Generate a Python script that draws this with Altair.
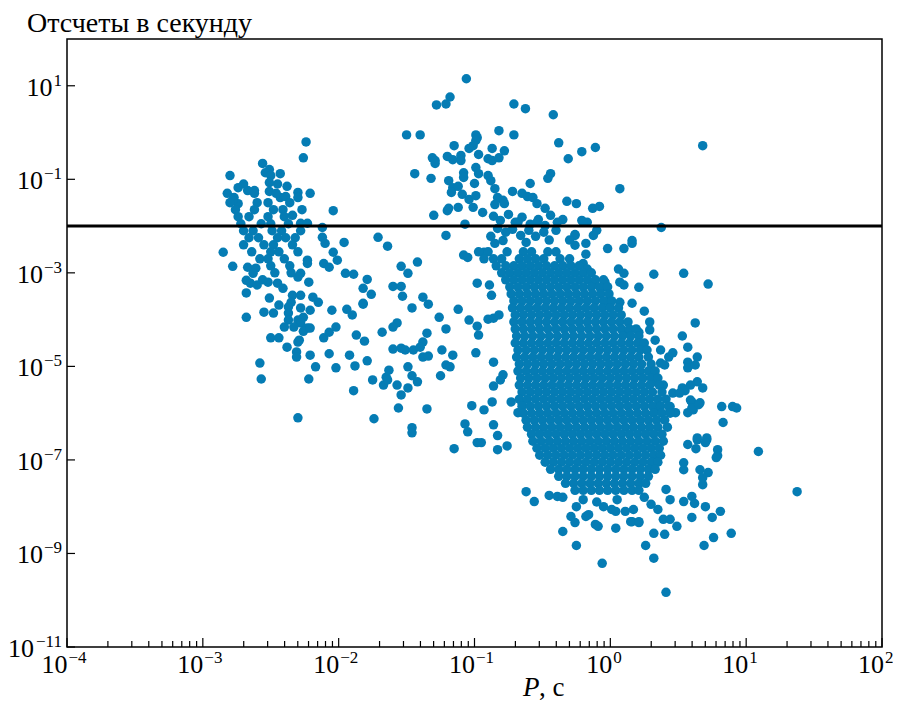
import altair as alt
import pandas as pd

# ---------------- texts ----------------
title_text = "Отсчеты в секунду"
xlabel_italic = "P"
xlabel_rest = ", с"

# ---------------- axis ticks ----------------
x_major = [1e-4, 1e-3, 1e-2, 1e-1, 1e0, 1e1, 1e2]
x_major_exp = [-4, -3, -2, -1, 0, 1, 2]
x_minor = [k * 10.0 ** e for e in range(-4, 2) for k in range(2, 10)]
y_major = [1e1, 1e-1, 1e-3, 1e-5, 1e-7, 1e-9, 1e-11]
y_major_exp = [1, -1, -3, -5, -7, -9, -11]
threshold = [1e-2]

# ---------------- data: (log10 P [s], log10 counts/s) ----------------
msp_pts = [(-2.24,-0.2),(-2.26,-0.54),(-2.56,-0.66),(-2.8,-0.92),(-2.51,-0.79),(-2.54,-0.86),(-2.5,-0.92),(-2.43,-0.88),
(-2.74,-1.18),(-2.67,-1.24),(-2.62,-1.24),(-2.77,-1.39),(-2.74,-1.52),(-2.78,-1.45),(-2.51,-1.07),(-2.51,-1.26),(-2.38,-1.15),
(-2.3,-1.28),(-2.3,-1.39),(-2.21,-1.3),(-2.43,-1.39),(-2.39,-1.37),(-2.04,-1.67),(-2.34,-1.77),(-2.28,-1.94),(-2.23,-1.94),
(-2.12,-2.03),(-2.12,-2.24),(-2.1,-2.37),(-1.96,-2.35),(-2.04,-2.56),(-2.01,-2.73),(-2.11,-2.8),(-2.07,-2.88),(-2.85,-2.56),
(-2.78,-2.86),(-2.67,-2.88),(-2.61,-2.9),(-2.63,-3.01),(-2.23,-2.73),(-2.23,-2.8),(-2.28,-3.01),(-2.3,-3.09),(-1.95,-3.01),
(-1.89,-3.03),(-1.79,-3.14),(-1.82,-3.33),(-1.76,-3.46),(-1.82,-3.65),(-2.68,-3.16),(-2.65,-3.22),(-2.6,-3.26),(-2.52,-3.2),
(-2.45,-3.22),(-2.41,-3.33),(-2.22,-3.2),(-2.68,-3.43),(-2.34,-3.48),(-2.28,-3.48),(-2.51,-3.54),(-2.19,-3.52),(-2.15,-3.63),
(-2.35,-3.63),(-2.37,-3.73),(-2.28,-3.75),(-2.21,-3.8),(-2.68,-3.95),(-2.55,-3.84),(-2.48,-3.86),(-2.44,-3.69),(-2.37,-3.86),
(-2.37,-4.01),(-2.3,-4.01),(-2.26,-3.95),(-2.28,-4.07),(-2.23,-4.18),(-2.05,-3.8),(-1.94,-3.78),(-1.9,-3.9),(-2.4,-4.16),
(-2.33,-4.16),(-2.26,-4.25),(-2.21,-4.18),(-2.5,-4.39),(-2.44,-4.39),(-2.29,-4.44),(-2.3,-4.48),(-2.38,-4.59),(-2.31,-4.69),
(-2.31,-4.8),(-2.21,-4.76),(-2.17,-5.01),(-2.22,-5.27),(-2.58,-4.93),(-2.57,-5.27),(-2.3,-6.1),(-2.07,-4.73),(-2.02,-5.03),
(-1.92,-4.76),(-1.88,-4.99),(-1.79,-4.88),(-2.11,-4.39),(-2.07,-4.27),(-2.02,-4.16),(-1.87,-4.33),(-1.81,-4.46),(-1.82,-3.67),
(-1.89,-5.52),(-1.75,-5.29),(-1.74,-6.12),(-1.68,-4.27)]

msp_core = {
    -1.1: [-2.7,-2.45],
    -1.3: [-2.82,-2.62,-2.46],
    -1.5: [-2.8,-2.6,-2.52,-2.36],
    -1.65: [-2.76,-2.62,-2.48,-2.41,-2.27],
    -1.8: [-2.74,-2.66,-2.52,-2.4],
    -1.95: [-2.72,-2.57,-2.5,-2.37],
    -2.1: [-2.7,-2.63,-2.49,-2.42,-2.28],
    -2.25: [-2.66,-2.59,-2.45,-2.39,-2.32],
    -2.4: [-2.7,-2.55,-2.48,-2.34],
    -2.55: [-2.64,-2.5,-2.44,-2.3],
    -2.7: [-2.58,-2.52,-2.4],
    -2.85: [-2.5,-2.36],
    -3.0: [-2.47,-2.35],
    -3.15: [-2.56],
}

mid_pts = [(-1.71,-2.24),(-1.64,-2.43),(-1.54,-2.86),(-1.49,-3.01),(-1.42,-2.77),(-1.6,-3.29),(-1.54,-3.29),(-1.53,-3.5),
(-1.46,-3.75),(-1.57,-4.07),(-1.6,-4.16),(-1.38,-3.52),(-1.34,-3.67),(-1.26,-3.95),(-1.21,-4.2),(-1.35,-4.29),(-1.38,-4.48),
(-1.6,-4.63),(-1.54,-4.61),(-1.51,-4.65),(-1.45,-4.65),(-1.4,-4.59),(-1.38,-4.8),(-1.34,-4.78),(-1.24,-4.65),(-1.21,-4.97),
(-1.25,-5.2),(-1.49,-5.01),(-1.46,-5.2),(-1.42,-5.33),(-1.49,-5.46),(-1.65,-5.23),(-1.67,-5.4),(-1.63,-5.08),(-1.57,-5.4),
(-1.64,-5.29),(-1.54,-5.61),(-1.56,-5.89),(-1.35,-5.91),(-1.46,-6.31),(-1.46,-6.42),(-1.3,-1.77),(-1.21,-2.2),(-1.2,-1.67),
(-1.12,-3.78),(-1.04,-4.01),(-0.98,-4.14),(-0.97,-4.33),(-0.99,-4.71),(-1.16,-4.76),(-1.18,-5.01),(-0.98,-3.22),(-0.89,-3.26),
(-0.875,-3.48),(-0.9,-3.99),(-0.86,-3.97),(-0.82,-3.9),(-0.86,-4.91),(-0.86,-5.42),(-0.79,-5.18),(-0.81,-5.29),(-1.02,-5.84),
(-0.93,-5.93),(-0.87,-5.76),(-1.07,-6.23),(-1.05,-6.4),(-1.15,-6.76),(-0.98,-6.63),(-0.95,-6.63),(-0.83,-6.48),(-0.83,-6.78),
(-0.76,-6.7),(-0.86,-6.25),(-0.73,-5.76),(-0.68,-5.99),(-0.65,-5.78),(-1.07,-1.96),(-1.08,-2.62),(-1.05,-2.67),(-0.85,-2.37),
(-0.79,-2.31),(-0.93,-2.56)]

upper_pts = [(-1.5,-0.05),(-1.4,-0.05),(-1.31,-0.54),(-1.29,-0.66),(-1.2,-0.51),(-1.44,-0.88),(-1.32,-0.98),
(-1.06,1.15),(-1.18,0.76),(-1.21,0.61),(-1.28,0.59),(-0.71,0.61),(-0.625,0.51),(-0.42,0.38),(-0.82,0.04),(-0.71,-0.05),
(-0.99,-0.05),(-0.98,-0.11),(-0.99,-0.17),(-1.01,-0.28),(-1.04,-0.34),(-1.15,-0.28),(-0.87,-0.34),(-0.78,-0.39),(-0.38,-0.22),
(-1.29,-0.6),(-1.16,-0.58),(-1.1,-0.49),(-1.1,-0.6),(-0.97,-0.47),(-0.9,-0.56),(-0.87,-0.6),(-0.82,-0.54),(-0.31,-0.56),
(-0.21,-0.41),(-0.11,-0.32),(-1.08,-0.86),(-1.08,-0.96),(-0.99,-0.75),(-0.97,-0.88),(-0.9,-0.92),(-0.88,-1.03),(-0.85,-1.2),
(-0.44,-0.88),(-0.46,-0.98),(-1.19,-1.03),(-1.16,-1.18),(-1.12,-1.15),(-1.17,-1.28),(-1.0,-1.09),(-1.09,-1.32),(-1.04,-1.43),
(-0.99,-1.35),(-1.01,-1.6),(-0.72,-1.26),(-0.65,-1.3),(-0.59,-1.09),(-0.61,-1.37),(-0.57,-1.39),(-0.54,-1.52),(0.07,-1.2),
(-1.19,-1.62),(-1.12,-1.6),(-0.94,-1.71),(-0.83,-1.39),(-0.79,-1.45),(-0.85,-1.54),(-0.78,-1.52),(-0.32,-1.47),(-0.25,-1.52),
(-0.48,-1.62),(-0.13,-1.62),(-0.08,-1.58),(-0.35,-1.86),(-0.21,-1.88),(-0.17,-1.92),(-0.26,-2.18),(-0.1,-2.09),(-0.125,-2.2),
(0.16,-2.31),(0.68,-0.28)]

line_pts = [(-0.86,-1.79),(-0.81,-1.88),(-0.75,-1.75),(-0.7,-1.92),(-0.65,-1.81),(-0.59,-1.96),(-0.53,-1.86),(-0.48,-1.99),
(-0.83,-2.05),(-0.77,-2.13),(-0.72,-2.07),(-0.66,-2.2),(-0.6,-2.09),(-0.55,-2.22),(-0.49,-2.13),(-0.88,-2.22),(-0.44,-1.77),
(-0.4,-2.09),(-0.68,-1.92),(-0.54,-1.92),(-0.39,-1.92),(-0.2,-1.92),(-0.26,-2.2),(-0.18,-2.37),(-0.02,-2.48),(0.1,-2.48),
(0.16,-2.37),(0.375,-2.03),(-0.26,-2.41),(-0.18,-2.6),(-0.2,-2.8),(-0.17,-2.92),(-0.3,-2.3),(-0.45,-2.3),(-0.62,-2.35)]

core_rows = {
    -2.55: [-0.97,-0.9,-0.76,-0.64,-0.58,-0.46,-0.4],
    -2.7: [-0.93,-0.86,-0.8,-0.67,-0.61,-0.55,-0.49,-0.37,-0.3],
    -2.85: [-0.84,-0.77,-0.71,-0.65,-0.59,-0.53,-0.47,-0.41,-0.35,-0.29,-0.23],
    -3.0: [-0.8,-0.74,-0.68,-0.62,-0.56,-0.5,-0.44,-0.38,-0.32,-0.26,-0.2,-0.14],
    -3.15: [-0.77,-0.71,-0.65,-0.59,-0.53,-0.47,-0.41,-0.35,-0.29,-0.23,-0.17,-0.11,-0.05],
    -3.3: [-0.74,-0.68,-0.62,-0.56,-0.5,-0.44,-0.38,-0.32,-0.26,-0.2,-0.14,-0.08,-0.02],
    -3.45: [-0.73,-0.67,-0.61,-0.55,-0.49,-0.43,-0.37,-0.31,-0.25,-0.19,-0.13,-0.07,-0.01],
    -3.6: [-0.71,-0.65,-0.59,-0.53,-0.47,-0.41,-0.35,-0.29,-0.23,-0.17,-0.11,-0.05,0.01],
    -3.75: [-0.72,-0.66,-0.6,-0.54,-0.48,-0.42,-0.36,-0.3,-0.24,-0.18,-0.12,-0.06,0.0,0.06],
    -3.9: [-0.7,-0.64,-0.58,-0.52,-0.46,-0.4,-0.34,-0.28,-0.22,-0.16,-0.1,-0.04,0.02,0.08],
    -4.05: [-0.71,-0.65,-0.59,-0.53,-0.47,-0.41,-0.35,-0.29,-0.23,-0.17,-0.11,-0.05,0.01,0.07,0.13],
    -4.2: [-0.7,-0.64,-0.58,-0.52,-0.46,-0.4,-0.34,-0.28,-0.22,-0.16,-0.1,-0.04,0.02,0.08,0.14,0.19],
    -4.35: [-0.69,-0.63,-0.57,-0.51,-0.45,-0.39,-0.33,-0.27,-0.21,-0.15,-0.09,-0.03,0.03,0.09,0.15,0.21],
    -4.5: [-0.7,-0.64,-0.58,-0.52,-0.46,-0.4,-0.34,-0.28,-0.22,-0.16,-0.1,-0.04,0.02,0.08,0.14,0.2,0.25],
    -4.65: [-0.68,-0.62,-0.56,-0.5,-0.44,-0.38,-0.32,-0.26,-0.2,-0.14,-0.08,-0.02,0.04,0.1,0.16,0.22,0.27],
    -4.8: [-0.69,-0.63,-0.57,-0.51,-0.45,-0.39,-0.33,-0.27,-0.21,-0.15,-0.09,-0.03,0.03,0.09,0.15,0.21,0.28],
    -4.95: [-0.67,-0.61,-0.55,-0.49,-0.43,-0.37,-0.31,-0.25,-0.19,-0.13,-0.07,-0.01,0.05,0.11,0.17,0.23,0.3],
    -5.1: [-0.68,-0.62,-0.56,-0.5,-0.44,-0.38,-0.32,-0.26,-0.2,-0.14,-0.08,-0.02,0.04,0.1,0.16,0.22,0.28,0.33],
    -5.25: [-0.66,-0.6,-0.54,-0.48,-0.42,-0.36,-0.3,-0.24,-0.18,-0.12,-0.06,0.0,0.06,0.12,0.18,0.24,0.3,0.35],
    -5.4: [-0.67,-0.61,-0.55,-0.49,-0.43,-0.37,-0.31,-0.25,-0.19,-0.13,-0.07,-0.01,0.05,0.11,0.17,0.23,0.29,0.36],
    -5.55: [-0.65,-0.59,-0.53,-0.47,-0.41,-0.35,-0.29,-0.23,-0.17,-0.11,-0.05,0.01,0.07,0.13,0.19,0.25,0.31,0.38],
    -5.7: [-0.67,-0.61,-0.55,-0.49,-0.43,-0.37,-0.31,-0.25,-0.19,-0.13,-0.07,-0.01,0.05,0.11,0.17,0.23,0.29,0.35,0.41],
    -5.85: [-0.65,-0.59,-0.53,-0.47,-0.41,-0.35,-0.29,-0.23,-0.17,-0.11,-0.05,0.01,0.07,0.13,0.19,0.25,0.31,0.37,0.43],
    -6.0: [-0.64,-0.58,-0.52,-0.46,-0.4,-0.34,-0.28,-0.22,-0.16,-0.1,-0.04,0.02,0.08,0.14,0.2,0.26,0.32,0.38,0.44],
    -6.15: [-0.62,-0.56,-0.5,-0.44,-0.38,-0.32,-0.26,-0.2,-0.14,-0.08,-0.02,0.04,0.1,0.16,0.22,0.28,0.34,0.4],
    -6.3: [-0.61,-0.55,-0.49,-0.43,-0.37,-0.31,-0.25,-0.19,-0.13,-0.07,-0.01,0.05,0.11,0.17,0.23,0.29,0.35,0.42],
    -6.45: [-0.58,-0.52,-0.46,-0.4,-0.34,-0.28,-0.22,-0.16,-0.1,-0.04,0.02,0.08,0.14,0.2,0.26,0.32,0.38],
    -6.6: [-0.57,-0.51,-0.45,-0.39,-0.33,-0.27,-0.21,-0.15,-0.09,-0.03,0.03,0.09,0.15,0.21,0.27,0.33,0.39],
    -6.75: [-0.54,-0.48,-0.42,-0.36,-0.3,-0.24,-0.18,-0.12,-0.06,0.0,0.06,0.12,0.18,0.24,0.3,0.36],
    -6.9: [-0.52,-0.46,-0.4,-0.34,-0.28,-0.22,-0.16,-0.1,-0.04,0.02,0.08,0.14,0.2,0.26,0.32,0.37],
    -7.05: [-0.48,-0.42,-0.36,-0.3,-0.24,-0.18,-0.12,-0.06,0.0,0.06,0.12,0.18,0.24,0.3,0.35],
    -7.2: [-0.44,-0.38,-0.32,-0.26,-0.2,-0.14,-0.08,-0.02,0.04,0.1,0.16,0.22,0.28,0.33],
    -7.35: [-0.38,-0.32,-0.26,-0.2,-0.14,-0.08,-0.02,0.04,0.1,0.16,0.22,0.28],
    -7.5: [-0.33,-0.27,-0.21,-0.15,-0.09,-0.03,0.03,0.09,0.15,0.21,0.26],
    -7.65: [-0.26,-0.2,-0.14,-0.08,-0.02,0.04,0.1,0.16,0.21],
}

right_pts = [(-0.12,-3.2),(-0.04,-3.2),(-0.06,-3.31),(0.06,-2.92),(0.1,-3.01),(0.07,-3.2),(0.1,-3.26),(0.21,-3.31),
(0.32,-3.03),(0.54,-3.01),(0.72,-3.24),(-0.01,-3.63),(0.07,-3.63),(0.16,-3.65),(0.25,-3.82),(0.29,-4.05),(0.29,-4.22),
(0.53,-4.35),(0.625,-4.07),(0.33,-4.44),(0.21,-4.27),(0.13,-4.27),(0.37,-4.65),(0.43,-4.8),(0.46,-4.71),(0.57,-4.91),
(0.64,-4.8),(0.57,-5.03),(0.625,-4.97),(0.37,-4.93),(0.4,-4.97),(0.53,-5.46),(0.46,-5.57),(0.64,-5.33),(0.68,-5.46),
(0.6,-5.76),(0.66,-5.78),(0.61,-5.93),(0.57,-5.99),(0.44,-5.86),(0.48,-5.99),(0.71,-6.57),(0.64,-6.57),(0.57,-6.67),
(0.32,-5.33),(0.39,-5.4),(0.59,-5.4),(0.55,-5.52),(0.51,-5.57),(0.59,-5.72),(0.6,-5.89),(0.35,-5.86),(0.44,-5.95),
(0.57,-4.59),(0.83,-6.2),(0.82,-5.86),(0.9,-5.86),(0.93,-5.89),(0.64,-6.53),(0.71,-6.53),(0.7,-6.63),(0.63,-6.76),
(0.79,-6.78),(0.79,-6.91),(0.78,-6.95),(0.66,-7.21),(0.72,-7.27),(0.68,-7.53),(0.68,-7.38),(0.54,-7.21),(0.54,-7.06),
(0.65,-5.82),(1.09,-6.82),(1.375,-7.68)]

bottom_pts = [(0.6,-8.23),(0.69,-8.83),(0.76,-8.66),(0.89,-8.57),(0.75,-8.23),(0.81,-8.1),(0.54,-7.89),(0.62,-7.93),
(0.6,-7.78),(0.7,-8.0),(0.35,-8.06),(0.44,-7.85),(0.41,-7.63),(0.16,-8.32),(0.21,-8.34),(0.39,-8.27),(0.44,-8.27),
(0.49,-8.42),(0.32,-8.57),(0.4,-8.59),(0.26,-8.83),(0.32,-9.1),(0.41,-9.83),(0.01,-8.06),(0.04,-8.1),(0.11,-8.1),
(0.17,-8.06),(0.15,-8.32),(0.21,-8.32),(-0.11,-8.38),(-0.09,-8.42),(0.04,-8.46),(-0.06,-9.21),(-0.25,-8.83),(-0.35,-8.53),
(-0.29,-8.21),(-0.26,-8.34),(-0.18,-8.21),(-0.16,-8.17),(-0.25,-8.0),(-0.2,-7.85),(-0.45,-7.76),(-0.39,-7.78),(-0.35,-7.8),
(-0.62,-7.68),(-0.56,-7.89),(-0.1,-7.9),(0.05,-7.85),(0.25,-7.8),(-0.05,-8.0),(0.3,-7.95)]

# ---------------- assemble table ----------------
pairs = []
pairs += msp_pts + mid_pts + upper_pts + line_pts + right_pts + bottom_pts
for lc, lps in list(msp_core.items()) + list(core_rows.items()):
    pairs += [(lp, lc) for lp in lps]
df = pd.DataFrame({"P": [10.0 ** p for p, c in pairs], "C": [10.0 ** c for p, c in pairs]})


def exp_text(k):
    return str(k).replace("-", "\u2212")


xlab_df = pd.DataFrame({"P": x_major, "e": [exp_text(k) for k in x_major_exp],
                        "n": [len(str(k)) for k in x_major_exp]})
ylab_df = pd.DataFrame({"C": y_major, "e": [exp_text(k) for k in y_major_exp],
                        "n": [len(str(k)) for k in y_major_exp]})

FONT = "Liberation Serif"
BASE_FS, EXP_FS = 26, 17
W, H = 815, 608
xs = alt.Scale(type="log", domain=[1e-4, 1e2], nice=False)
ys = alt.Scale(type="log", domain=[1e-11, 1e2], nice=False)

points = alt.Chart(df).mark_circle(size=90, color="#057cb4", opacity=1).encode(
    x=alt.X("P:Q", scale=xs, axis=None),
    y=alt.Y("C:Q", scale=ys, axis=None),
)

hline = alt.Chart(pd.DataFrame({"C": threshold})).mark_rule(color="black", strokeWidth=3).encode(
    y=alt.Y("C:Q", scale=ys, axis=None)
)

xt_major = alt.Chart(pd.DataFrame({"P": x_major})).mark_rule(color="black", strokeWidth=1.2).encode(
    x=alt.X("P:Q", scale=xs, axis=None), y=alt.value(H), y2=alt.value(H - 9)
)
xt_minor = alt.Chart(pd.DataFrame({"P": x_minor})).mark_rule(color="black", strokeWidth=1.2).encode(
    x=alt.X("P:Q", scale=xs, axis=None), y=alt.value(H), y2=alt.value(H - 6)
)
yt_major = alt.Chart(pd.DataFrame({"C": y_major})).mark_rule(color="black", strokeWidth=1.2).encode(
    y=alt.Y("C:Q", scale=ys, axis=None), x=alt.value(0), x2=alt.value(8)
)

# x tick labels: "10" + raised exponent, whole label centred on the tick
x_label_layers = []
for n, base_dx, exp_dx in [(1, 2, 3), (2, 0.5, 1.5)]:
    sub = alt.Chart(xlab_df).transform_filter(f"datum.n == {n}")
    x_label_layers.append(sub.mark_text(align="right", baseline="alphabetic", font=FONT, fontSize=BASE_FS,
                                        color="black", dx=base_dx, dy=26).encode(
        x=alt.X("P:Q", scale=xs, axis=None), y=alt.value(H), text=alt.value("10")))
    x_label_layers.append(sub.mark_text(align="left", baseline="alphabetic", font=FONT, fontSize=EXP_FS,
                                        color="black", dx=exp_dx, dy=16).encode(
        x=alt.X("P:Q", scale=xs, axis=None), y=alt.value(H), text="e:N"))

# y tick labels: right-aligned left of the axis
y_label_layers = []
for n, base_x in [(1, -14.5), (2, -24), (3, -33)]:
    sub = alt.Chart(ylab_df).transform_filter(f"datum.n == {n}")
    y_label_layers.append(sub.mark_text(align="right", baseline="alphabetic", font=FONT, fontSize=BASE_FS,
                                        color="black", dy=10).encode(
        y=alt.Y("C:Q", scale=ys, axis=None), x=alt.value(base_x), text=alt.value("10")))
    y_label_layers.append(sub.mark_text(align="right", baseline="alphabetic", font=FONT, fontSize=EXP_FS,
                                        color="black", dy=0).encode(
        y=alt.Y("C:Q", scale=ys, axis=None), x=alt.value(-5), text="e:N"))

title = alt.Chart(pd.DataFrame({"t": [title_text]})).mark_text(
    align="left", baseline="alphabetic", font=FONT, fontSize=28, color="black"
).encode(x=alt.value(-40), y=alt.value(-7), text="t:N")

xl1 = alt.Chart(pd.DataFrame({"t": [xlabel_italic]})).mark_text(
    align="left", baseline="alphabetic", font=FONT, fontSize=27, fontStyle="italic", color="black"
).encode(x=alt.value(456), y=alt.value(657), text="t:N")
xl2 = alt.Chart(pd.DataFrame({"t": [xlabel_rest]})).mark_text(
    align="left", baseline="alphabetic", font=FONT, fontSize=27, color="black"
).encode(x=alt.value(472), y=alt.value(657), text="t:N")

chart = alt.layer(points, hline, xt_major, xt_minor, yt_major, *x_label_layers, *y_label_layers,
                  title, xl1, xl2).properties(
    width=W, height=H,
    autosize=alt.AutoSizeParams(type="none"),
    padding={"left": 59, "top": 31, "right": 11, "bottom": 55},
).configure_view(stroke="black", strokeWidth=1.5)

chart.save("out.html", embed_options={"renderer": "svg", "actions": False})
